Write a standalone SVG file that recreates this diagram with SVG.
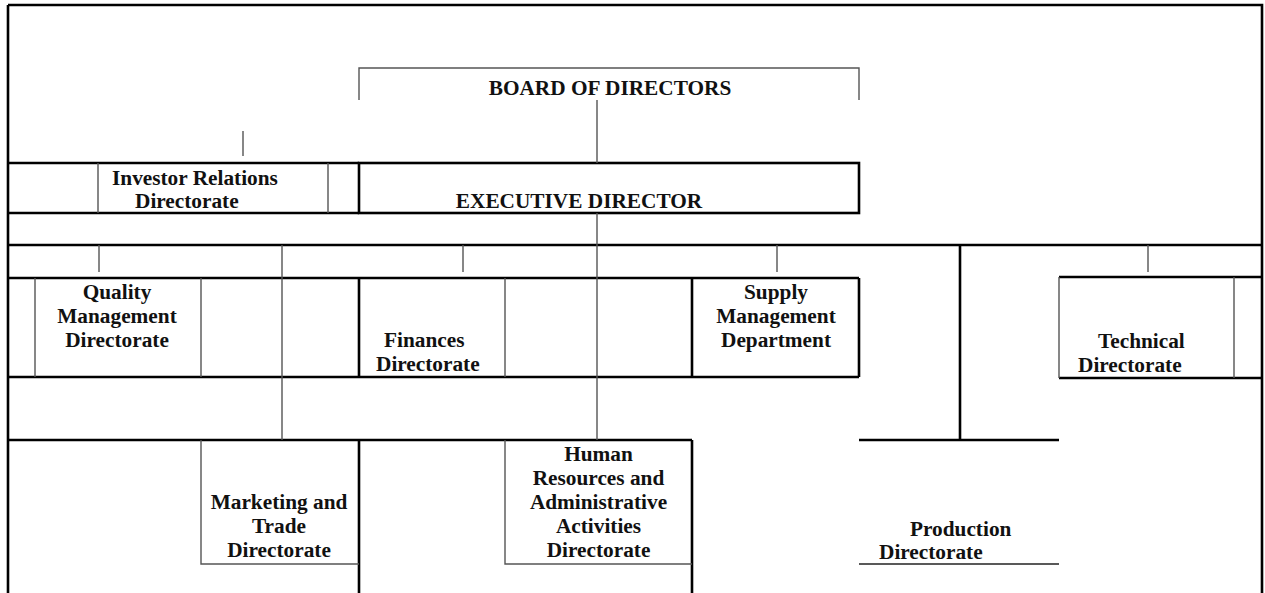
<svg xmlns="http://www.w3.org/2000/svg" width="1265" height="593" viewBox="0 0 1265 593">
  <style>
    .thick { fill: none; stroke: #000; stroke-width: 2.6; }
    .thin { fill: none; stroke: #555; stroke-width: 1.4; }
    .lbl { font-family: "Liberation Serif", "Times New Roman", serif; font-weight: bold; font-size: 21.3px; fill: #111; }
    .mid { text-anchor: middle; }
  </style>
  <rect width="1265" height="593" fill="#fff"/>

  <!-- outer frame and table grid -->
  <g id="frame">
    <path class="thick" d="M8,5 H1262 V593 M8,5 V593"/>
    <!-- row 1 -->
    <path class="thick" d="M8,163 H359 M8,213 H359"/>
    <path class="thin" d="M98,163 V213 M328,163 V213"/>
    <!-- bus line -->
    <path class="thick" d="M8,245 H1262"/>
    <!-- row 2 -->
    <path class="thick" d="M8,278 H859 M8,377 H859 M359,278 V377 M692,278 V377 M859,278 V377"/>
    <path class="thin" d="M35,278 V377 M201,278 V377 M505,278 V377"/>
    <!-- row 3 -->
    <path class="thick" d="M8,440 H692 M359,440 V593 M692,440 V593"/>
  </g>

  <g id="board">
    <path class="thin" d="M359,100 V68 H859 V100"/>
    <text class="lbl mid" x="610" y="95">BOARD OF DIRECTORS</text>
  </g>

  <g id="executive">
    <rect class="thick" x="359" y="163" width="500" height="50"/>
    <text class="lbl mid" x="579" y="208">EXECUTIVE DIRECTOR</text>
  </g>

  <g id="investor">
    <text class="lbl" x="112" y="185">Investor Relations</text>
    <text class="lbl" x="135" y="208">Directorate</text>
  </g>

  <g id="quality">
    <text class="lbl mid" x="117" y="299">Quality</text>
    <text class="lbl mid" x="117" y="323">Management</text>
    <text class="lbl mid" x="117" y="347">Directorate</text>
  </g>

  <g id="finances">
    <text class="lbl" x="384" y="347">Finances</text>
    <text class="lbl" x="376" y="371">Directorate</text>
  </g>

  <g id="supply">
    <text class="lbl mid" x="776" y="299">Supply</text>
    <text class="lbl mid" x="776" y="323">Management</text>
    <text class="lbl mid" x="776" y="347">Department</text>
  </g>

  <g id="technical">
    <path class="thick" d="M1059,277 H1262 M1059,378 H1262"/>
    <path class="thin" d="M1059,277 V378 M1234,277 V378"/>
    <text class="lbl" x="1098" y="348">Technical</text>
    <text class="lbl" x="1078" y="372">Directorate</text>
  </g>

  <g id="marketing">
    <path class="thin" d="M201,440 V564 H359"/>
    <text class="lbl mid" x="279" y="509">Marketing and</text>
    <text class="lbl mid" x="279" y="533">Trade</text>
    <text class="lbl mid" x="279" y="557">Directorate</text>
  </g>

  <g id="human-resources">
    <path class="thin" d="M505,440 V564 H692"/>
    <text class="lbl mid" x="598.5" y="461">Human</text>
    <text class="lbl mid" x="598.5" y="485">Resources and</text>
    <text class="lbl mid" x="598.5" y="509">Administrative</text>
    <text class="lbl mid" x="598.5" y="533">Activities</text>
    <text class="lbl mid" x="598.5" y="557">Directorate</text>
  </g>

  <g id="production">
    <path class="thick" d="M859,440 H1059"/>
    <path class="thin" d="M859,564 H1059" style="stroke:#222"/>
    <text class="lbl" x="910" y="536">Production</text>
    <text class="lbl" x="879" y="559">Directorate</text>
  </g>

  <!-- connectors -->
  <g id="connectors">
    <path class="thin" d="M597,100 V163 M597,213 V440 M282,245 V440"/>
    <path class="thick" d="M960,245 V440"/>
    <path class="thin" d="M243,131 V156 M99,245 V272 M463,245 V272 M777,245 V272 M1148,245 V272"/>
  </g>
</svg>
